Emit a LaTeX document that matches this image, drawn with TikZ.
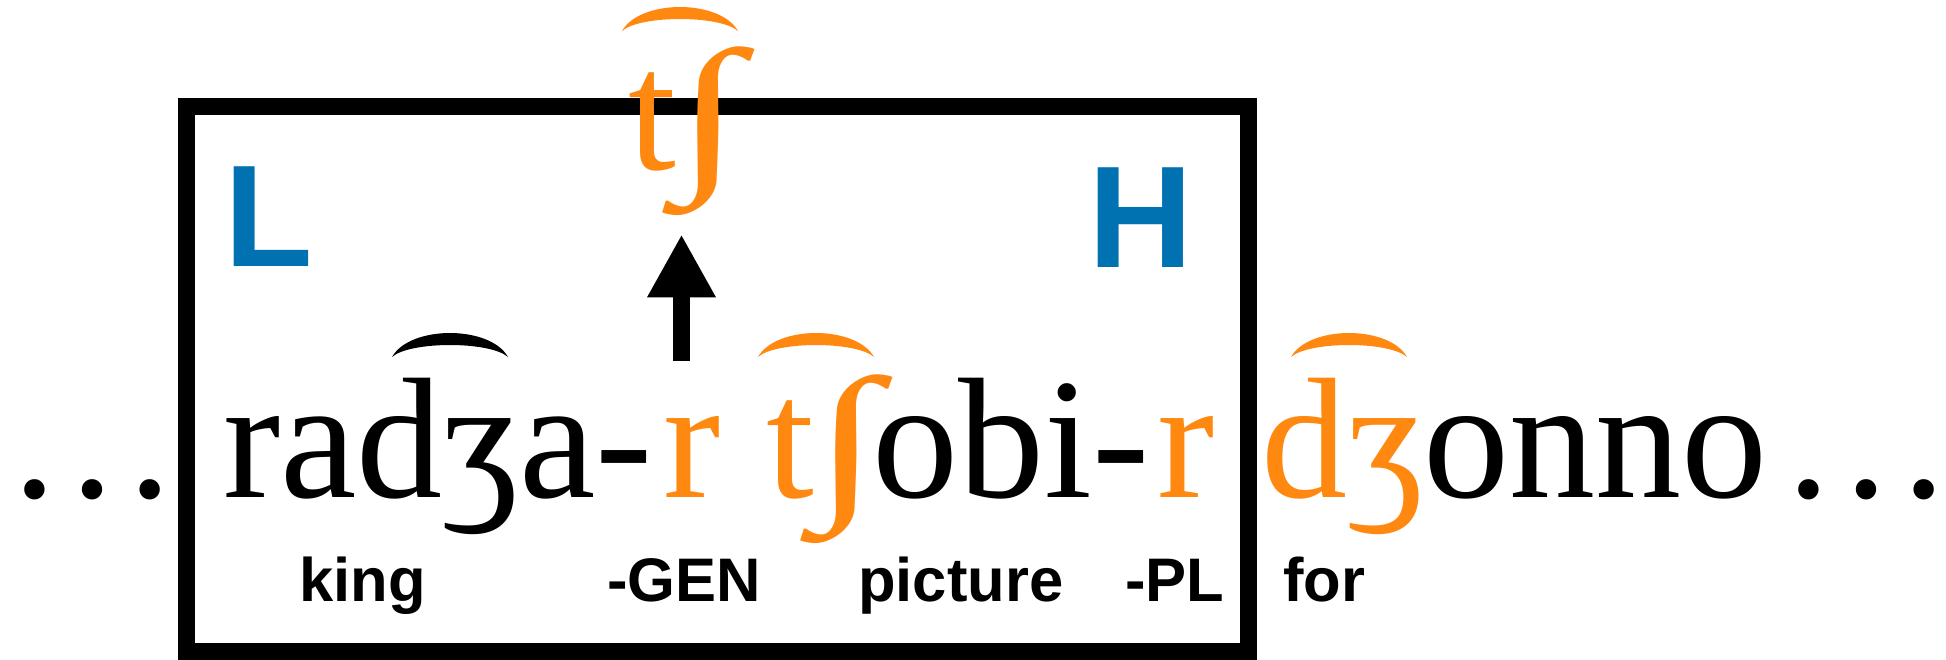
\documentclass[tikz,border=0pt]{standalone}
\usepackage{fontspec}
\usepackage{graphicx}
\setmainfont{Liberation Serif}
\setsansfont{Liberation Sans}
\usetikzlibrary{arrows.meta}
\definecolor{tonehigh}{RGB}{0,114,178}
\definecolor{sandhi}{RGB}{255,136,17}
\newcommand{\esh}{\kern-0.5pt\scalebox{1.42}[1]{∫}\kern-8pt}
\tikzset{
  word/.style={anchor=base west, inner sep=0pt, font=\fontsize{172}{180}\selectfont},
  gloss/.style={anchor=base west, inner sep=0pt, font=\sffamily\bfseries\fontsize{61.5}{70}\selectfont},
  tone/.style={anchor=base west, inner sep=0pt, text=tonehigh, font=\sffamily\bfseries\fontsize{145}{150}\selectfont},
  tiebar/.pic={\fill (0,0) .. controls (18,-32) and (98,-32) .. (116,0) .. controls (98,-16) and (18,-16) .. cycle;},
}
\begin{document}
\begin{tikzpicture}[x=1pt, y=-1pt, >=Triangle]
  \useasboundingbox (0,0) rectangle (1946,659);
  \draw[line width=17pt] (186,106) rectangle (1248,651);
  \node[tone] (lo) at (224,266) {L};
  \node[tone] (hi) at (1088,267) {H};
  % main line
  \node[word, anchor=base] (dl) at (92,497) {…};
  \node[word] (w1) at (223,497) {radʒa-};
  \node[word, text=sandhi] (g1) at (663,497) {r};
  \node[word] (w2) at (766,497) {\textcolor{sandhi}{t\esh}obi-};
  \node[word, text=sandhi] (g2) at (1157,497) {r};
  \node[word] (w3) at (1261,497) {\textcolor{sandhi}{dʒ}onno};
  \node[word, anchor=base] (dr) at (1866,497) {…};
  \pic[fill=black] at (392,357) {tiebar};
  \pic[fill=sandhi] at (758,357) {tiebar};
  \pic[fill=sandhi] at (1291,357) {tiebar};
  % glosses
  \node[gloss] (gk) at (299,601) {king};
  \node[gloss] (gg) at (607,601) {-GEN};
  \node[gloss] (gp) at (858,601) {picture};
  \node[gloss] (gl) at (1125,601) {-PL};
  \node[gloss] (gf) at (1283,601) {for};
  % raised affricate
  \node[word, text=sandhi] (up) at (628,169) {t\esh};
  \pic[fill=sandhi] at (622,31) {tiebar};
  \coordinate (foot) at (681.5,361);
  \draw[line width=17pt, -{Triangle[width=64pt, length=63pt]}, shorten >=19pt] (foot) -- (foot |- up.south);
\end{tikzpicture}
\end{document}
